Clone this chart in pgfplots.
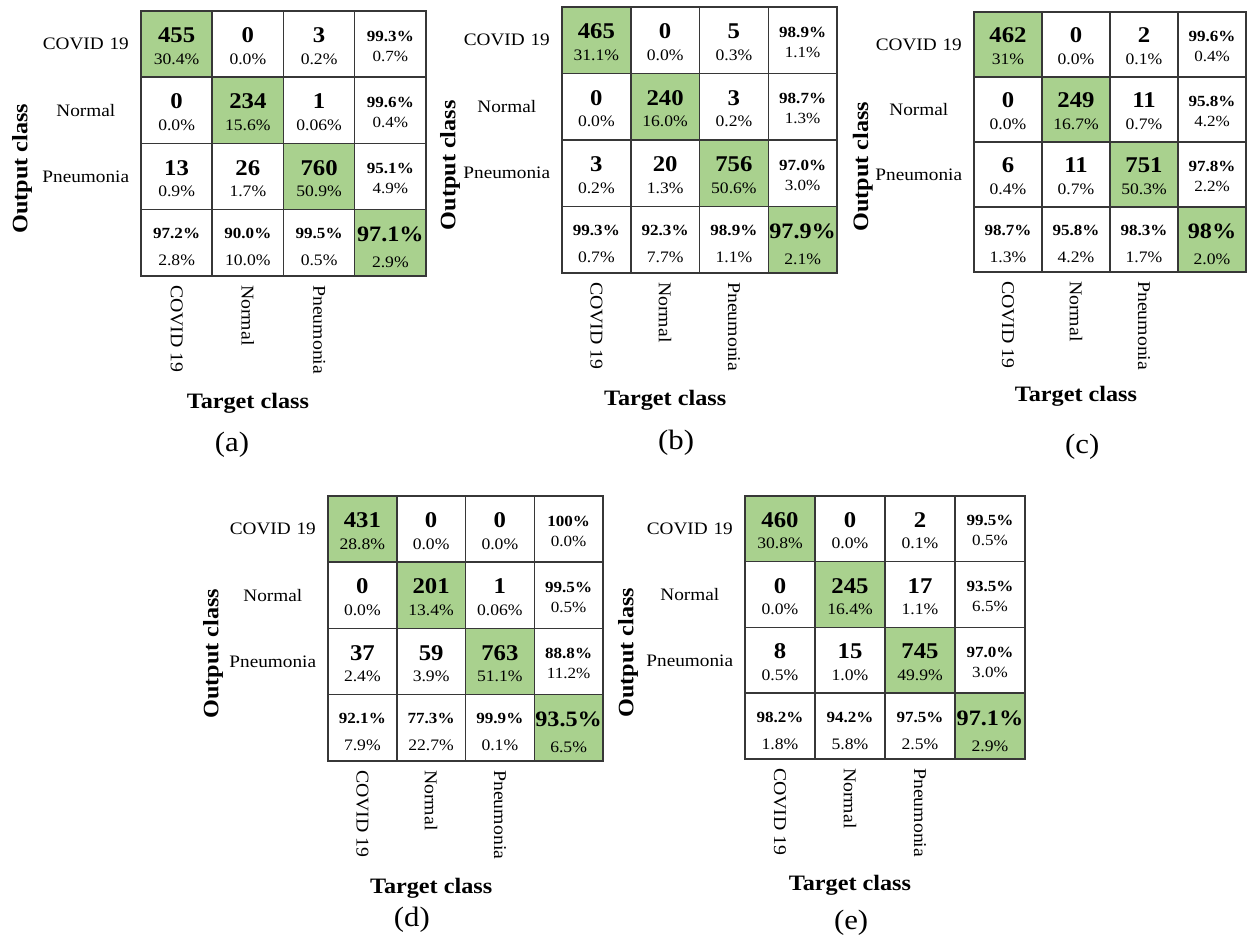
\documentclass[border=0pt]{standalone}
\usepackage{pgfplots}
\pgfplotsset{compat=1.18}
\usepackage{pgfplotstable}
\usepackage{fontspec}
\setmainfont{Liberation Serif}[FakeStretch=1.1]
\definecolor{cmgreen}{RGB}{169,209,142}
\definecolor{cmline}{RGB}{55,55,55}
\protected\def\cA#1{\raisebox{1.5pt}{\fontsize{22.5}{22.5}\selectfont\bfseries #1}}
\protected\def\cB#1{\raisebox{-20pt}{\fontsize{16}{16}\selectfont #1}}
\protected\def\rA#1{\raisebox{3pt}{\fontsize{15.5}{15.5}\selectfont\bfseries #1}}
\protected\def\rB#1{\raisebox{-17pt}{\fontsize{15.5}{15.5}\selectfont #1}}
\protected\def\bA#1{\raisebox{4pt}{\fontsize{15.5}{15.5}\selectfont\bfseries #1}}
\protected\def\bB#1{\raisebox{-23pt}{\fontsize{16}{16}\selectfont #1}}
\protected\def\kA#1{\raisebox{1pt}{\fontsize{22}{22}\selectfont\bfseries #1}}
\protected\def\kB#1{\raisebox{-25pt}{\fontsize{16}{16}\selectfont #1}}

\pgfplotstableread{
x y c top bot
0 0 1 \cA{455} \cB{30.4\%}
1 0 0 \cA{0} \cB{0.0\%}
2 0 0 \cA{3} \cB{0.2\%}
3 0 0 \rA{99.3\%} \rB{0.7\%}
0 1 0 \cA{0} \cB{0.0\%}
1 1 1 \cA{234} \cB{15.6\%}
2 1 0 \cA{1} \cB{0.06\%}
3 1 0 \rA{99.6\%} \rB{0.4\%}
0 2 0 \cA{13} \cB{0.9\%}
1 2 0 \cA{26} \cB{1.7\%}
2 2 1 \cA{760} \cB{50.9\%}
3 2 0 \rA{95.1\%} \rB{4.9\%}
0 3 0 \bA{97.2\%} \bB{2.8\%}
1 3 0 \bA{90.0\%} \bB{10.0\%}
2 3 0 \bA{99.5\%} \bB{0.5\%}
3 3 1 \kA{97.1\%} \kB{2.9\%}
}\tA
\pgfplotstableread{
x y c top bot
0 0 1 \cA{465} \cB{31.1\%}
1 0 0 \cA{0} \cB{0.0\%}
2 0 0 \cA{5} \cB{0.3\%}
3 0 0 \rA{98.9\%} \rB{1.1\%}
0 1 0 \cA{0} \cB{0.0\%}
1 1 1 \cA{240} \cB{16.0\%}
2 1 0 \cA{3} \cB{0.2\%}
3 1 0 \rA{98.7\%} \rB{1.3\%}
0 2 0 \cA{3} \cB{0.2\%}
1 2 0 \cA{20} \cB{1.3\%}
2 2 1 \cA{756} \cB{50.6\%}
3 2 0 \rA{97.0\%} \rB{3.0\%}
0 3 0 \bA{99.3\%} \bB{0.7\%}
1 3 0 \bA{92.3\%} \bB{7.7\%}
2 3 0 \bA{98.9\%} \bB{1.1\%}
3 3 1 \kA{97.9\%} \kB{2.1\%}
}\tB
\pgfplotstableread{
x y c top bot
0 0 1 \cA{462} \cB{31\%}
1 0 0 \cA{0} \cB{0.0\%}
2 0 0 \cA{2} \cB{0.1\%}
3 0 0 \rA{99.6\%} \rB{0.4\%}
0 1 0 \cA{0} \cB{0.0\%}
1 1 1 \cA{249} \cB{16.7\%}
2 1 0 \cA{11} \cB{0.7\%}
3 1 0 \rA{95.8\%} \rB{4.2\%}
0 2 0 \cA{6} \cB{0.4\%}
1 2 0 \cA{11} \cB{0.7\%}
2 2 1 \cA{751} \cB{50.3\%}
3 2 0 \rA{97.8\%} \rB{2.2\%}
0 3 0 \bA{98.7\%} \bB{1.3\%}
1 3 0 \bA{95.8\%} \bB{4.2\%}
2 3 0 \bA{98.3\%} \bB{1.7\%}
3 3 1 \kA{98\%} \kB{2.0\%}
}\tC
\pgfplotstableread{
x y c top bot
0 0 1 \cA{431} \cB{28.8\%}
1 0 0 \cA{0} \cB{0.0\%}
2 0 0 \cA{0} \cB{0.0\%}
3 0 0 \rA{100\%} \rB{0.0\%}
0 1 0 \cA{0} \cB{0.0\%}
1 1 1 \cA{201} \cB{13.4\%}
2 1 0 \cA{1} \cB{0.06\%}
3 1 0 \rA{99.5\%} \rB{0.5\%}
0 2 0 \cA{37} \cB{2.4\%}
1 2 0 \cA{59} \cB{3.9\%}
2 2 1 \cA{763} \cB{51.1\%}
3 2 0 \rA{88.8\%} \rB{11.2\%}
0 3 0 \bA{92.1\%} \bB{7.9\%}
1 3 0 \bA{77.3\%} \bB{22.7\%}
2 3 0 \bA{99.9\%} \bB{0.1\%}
3 3 1 \kA{93.5\%} \kB{6.5\%}
}\tD
\pgfplotstableread{
x y c top bot
0 0 1 \cA{460} \cB{30.8\%}
1 0 0 \cA{0} \cB{0.0\%}
2 0 0 \cA{2} \cB{0.1\%}
3 0 0 \rA{99.5\%} \rB{0.5\%}
0 1 0 \cA{0} \cB{0.0\%}
1 1 1 \cA{245} \cB{16.4\%}
2 1 0 \cA{17} \cB{1.1\%}
3 1 0 \rA{93.5\%} \rB{6.5\%}
0 2 0 \cA{8} \cB{0.5\%}
1 2 0 \cA{15} \cB{1.0\%}
2 2 1 \cA{745} \cB{49.9\%}
3 2 0 \rA{97.0\%} \rB{3.0\%}
0 3 0 \bA{98.2\%} \bB{1.8\%}
1 3 0 \bA{94.2\%} \bB{5.8\%}
2 3 0 \bA{97.5\%} \bB{2.5\%}
3 3 1 \kA{97.1\%} \kB{2.9\%}
}\tE

\pgfplotsset{
 cm/.style={
  scale only axis, anchor=north west, clip=false,
  xmin=-0.5, xmax=3.5, ymin=-0.5, ymax=3.5, y dir=reverse,
  axis on top,
  xtick={0,1,2}, ytick={0,1,2},
  xticklabels={COVID 19,Normal,Pneumonia},
  yticklabels={COVID 19,Normal,Pneumonia},
  minor xtick={0.5,1.5,2.5}, minor ytick={0.5,1.5,2.5},
  xminorgrids=true, yminorgrids=true,
  minor grid style={draw=cmline, line width=1.5pt},
  major tick length=0pt, minor tick length=0pt,
  axis line style={draw=cmline, line width=1.5pt},
  xticklabel style={rotate=-90, anchor=west, inner xsep=9pt, inner ysep=0pt, font=\fontsize{18}{18}\selectfont},
  yticklabel style={anchor=east, text width=95pt, align=center, inner xsep=7.5pt, font=\fontsize{17.5}{17.5}\selectfont},
  xlabel={Target class}, ylabel={Output class},
  label style={font=\fontsize{22}{22}\selectfont\bfseries},
  xlabel style={at={(axis description cs:0.375,-0.48)}, anchor=center},
  colormap={gw}{rgb255=(255,255,255) rgb255=(169,209,142)},
  point meta min=0, point meta max=1,
 },
 txt/.style={draw=none, nodes near coords, point meta=explicit symbolic,
  nodes near coords align={center},
  every node near coord/.append style={anchor=base, inner sep=0pt, text=black}},
}

\newcommand\cmpanel[9]{%
\begin{axis}[cm, at={(#1pt,#2pt)}, width=#3pt, height=#4pt,
  ylabel style={at={(axis description cs:#6,0.405)}, anchor=center}]
\addplot[matrix plot*, mesh/cols=4, point meta=\thisrow{c}] table[x=x,y=y]{#5};
\addplot[txt] table[x=x,y=y,meta=top]{#5};
\addplot[txt] table[x=x,y=y,meta=bot]{#5};
\node[font=\fontsize{28}{28}\selectfont] at (axis description cs:#8,#9) {#7};
\end{axis}}

\begin{document}
\begin{tikzpicture}
\path[use as bounding box] (0pt,0pt) rectangle (1248pt,941pt);
\cmpanel{141}{930}{285}{265}{\tA}{-0.4175}{(a)}{0.319}{-0.638}
\cmpanel{562}{934}{275}{266}{\tB}{-0.407}{(b)}{0.415}{-0.639}
\cmpanel{974}{929}{272}{260}{\tC}{-0.409}{(c)}{0.398}{-0.673}
\cmpanel{328}{445}{275}{265}{\tD}{-0.418}{(d)}{0.305}{-0.6}
\cmpanel{745}{445}{280}{263}{\tE}{-0.418}{(e)}{0.379}{-0.624}
\end{tikzpicture}
\end{document}
